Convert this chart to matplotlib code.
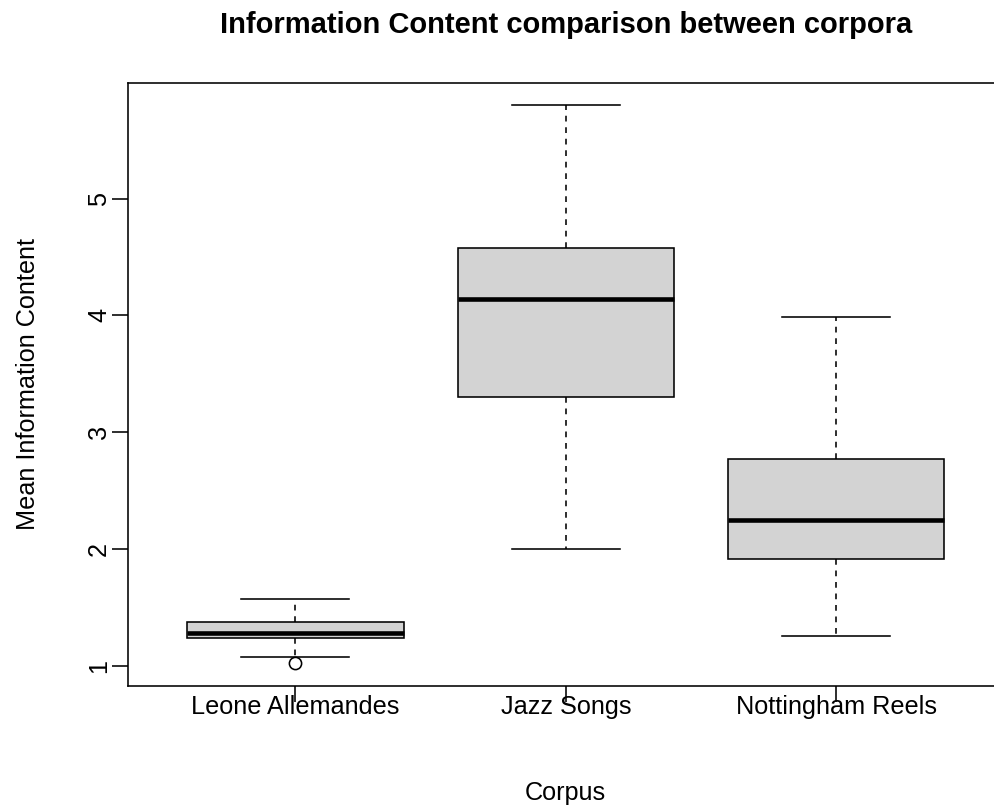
import numpy as np
import matplotlib.pyplot as plt

plt.rcParams['font.family'] = ['Liberation Sans', 'DejaVu Sans']

# summary statistics per corpus (mean information content)
corpora = ["Leone Allemandes", "Jazz Songs", "Nottingham Reels"]
whisker_low = [1.07, 2.00, 1.25]
q1 = [1.24, 3.30, 1.91]
medians = [1.28, 4.14, 2.25]
q3 = [1.37, 4.58, 2.77]
whisker_high = [1.57, 5.80, 3.99]
outliers = [[1.02], [], []]
y_ticks = [1, 2, 3, 4, 5]

stats = []
for i, name in enumerate(corpora):
    stats.append(dict(label=name, whislo=whisker_low[i], q1=q1[i], med=medians[i],
                      q3=q3[i], whishi=whisker_high[i], fliers=outliers[i]))

lw = 1.15
fs = 18.2

fig = plt.figure(figsize=(9.95, 8.07), dpi=100)
W, H = 995, 807
left, right, top, bottom = 127.7, 1003.9, 83, 685.6
ax = fig.add_axes([left / W, (H - bottom) / H, (right - left) / W, (bottom - top) / H])

ax.bxp(stats, positions=[1, 2, 3], widths=0.8, capwidths=0.4, patch_artist=True,
       boxprops=dict(facecolor='#D3D3D3', edgecolor='black', linewidth=lw),
       whiskerprops=dict(color='black', linewidth=lw, linestyle=(0, (3.6, 3.6))),
       capprops=dict(color='black', linewidth=lw),
       medianprops=dict(color='black', linewidth=3.3, solid_capstyle='butt'),
       flierprops=dict(marker='o', markerfacecolor='none', markeredgecolor='black',
                       markersize=8.8, markeredgewidth=lw))

# R-style 4% axis extension
all_vals = whisker_low + whisker_high + [v for o in outliers for v in o]
lo, hi = min(all_vals), max(all_vals)
ax.set_ylim(lo - 0.04 * (hi - lo), hi + 0.04 * (hi - lo))
ax.set_xlim(0.5 - 0.04 * 3, 3.5 + 0.04 * 3)

ax.set_xticks([1, 2, 3])
ax.set_xticklabels(corpora)
ax.set_yticks(y_ticks)
ax.set_yticklabels([str(t) for t in y_ticks], rotation=90, va='center')

ax.tick_params(direction='out', length=11.5, width=lw, labelsize=fs)
ax.tick_params(axis='x', pad=-4.5)
ax.tick_params(axis='y', pad=0.5)
for s in ax.spines.values():
    s.set_linewidth(lw)

ax.set_xlabel("Corpus", fontsize=fs)
ax.xaxis.set_label_coords(0.5, -0.158)
ax.set_ylabel("Mean Information Content", fontsize=fs)
ax.yaxis.set_label_coords(-0.1004, 0.5)

ax.set_title("Information Content comparison between corpora",
             fontsize=21, fontweight='bold', pad=36)

fig.savefig("out.png", dpi=100)
